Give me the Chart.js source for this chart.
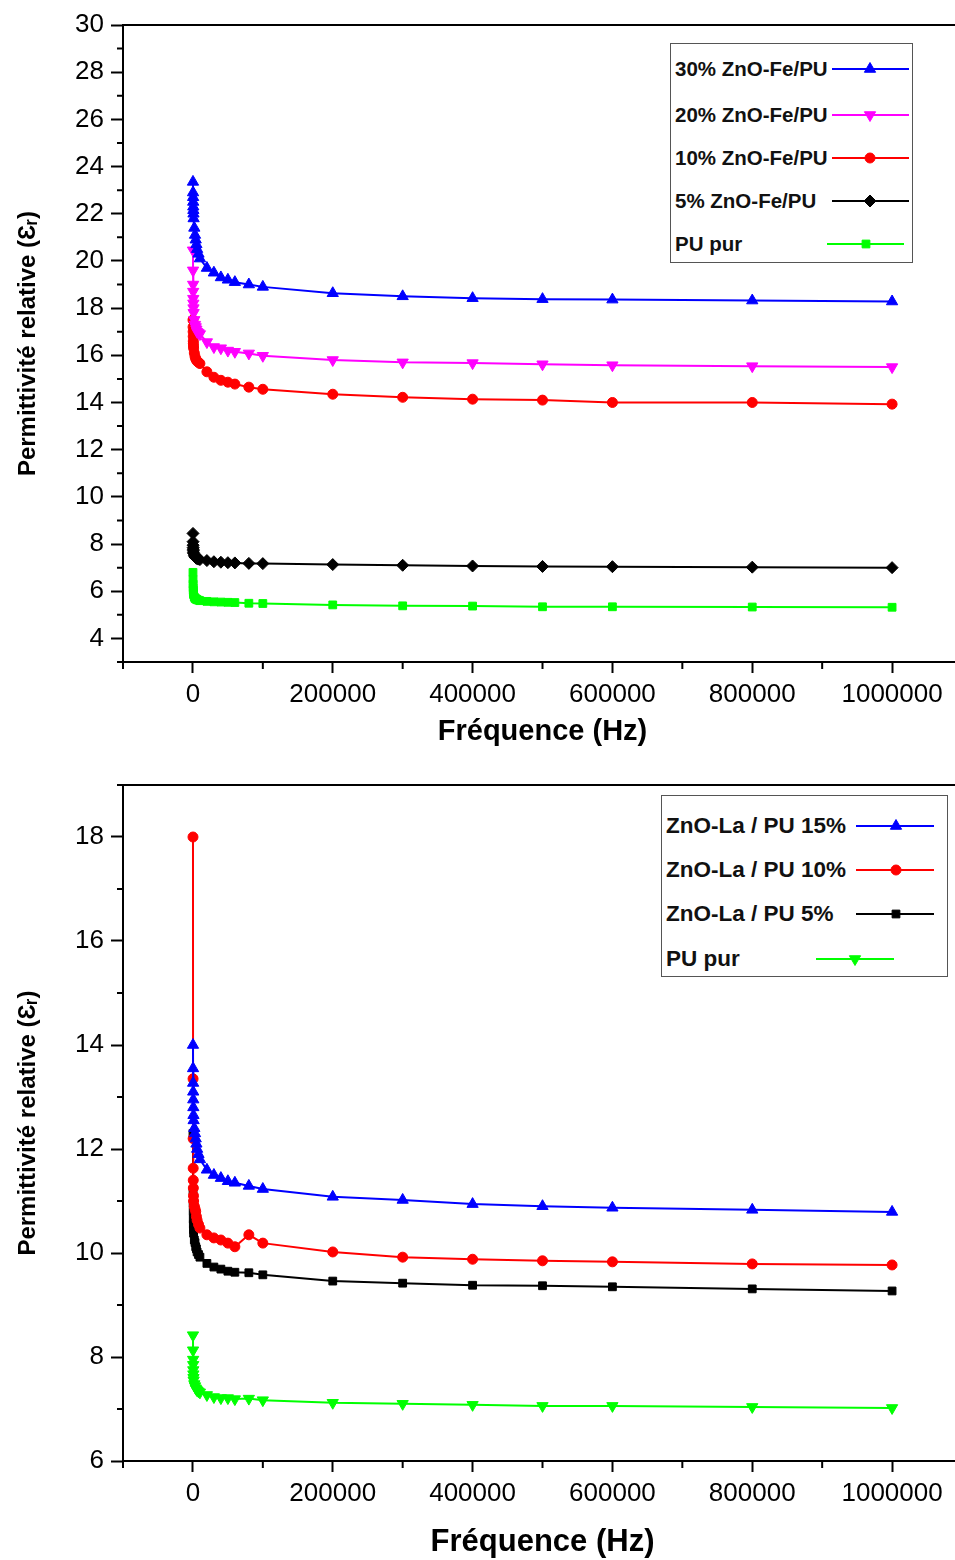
<!DOCTYPE html>
<html>
<head>
<meta charset="utf-8">
<script src="https://cdn.jsdelivr.net/npm/chart.js@4.4.1/dist/chart.umd.min.js"></script>
<style>
  html, body { margin: 0; padding: 0; background: #fff; overflow: hidden; width: 955px; height: 1560px; }
  #wrap { position: relative; width: 1000px; height: 1560px; }
  #wrap > canvas { position: absolute; left: 0; }
  .legend { position: absolute; border: 1.5px solid #555; background: #fff; box-sizing: border-box; z-index: 2;
            font-family: "Liberation Sans", Arial, Helvetica, sans-serif; font-weight: bold; color: #111; }
  .legend .lbl { position: absolute; white-space: nowrap; line-height: 1; transform: translateY(-50%); }
  .legend canvas { position: absolute; }
</style>
</head>
<body>
<div id="wrap">
  <canvas id="feChart" width="1000" height="760" style="top:0"></canvas>
  <canvas id="laChart" width="1000" height="800" style="top:760px"></canvas>
</div>
<script>
// Measurement frequencies (Hz)
const freqHz = [100, 200, 300, 400, 500, 600, 800, 1000, 2000, 3000, 4000, 5000, 6000, 8000,
  10000, 20000, 30000, 40000, 50000, 60000, 80000, 100000,
  200000, 300000, 400000, 500000, 600000, 800000, 1000000];

// ZnO-Fe / PU composites
const feLabels = ['30% ZnO-Fe/PU', '20% ZnO-Fe/PU', '10% ZnO-Fe/PU', '5% ZnO-Fe/PU', 'PU pur'];
const fe30 = [23.35, 22.9, 22.7, 22.5, 22.3, 22.15, 22.0, 21.8, 21.4, 21.1, 20.9, 20.7, 20.5, 20.3,
  20.1, 19.7, 19.5, 19.3, 19.2, 19.1, 19.0, 18.9, 18.63, 18.5, 18.42, 18.38, 18.36, 18.32, 18.28];
const fe20 = [20.45, 19.6, 19.0, 18.7, 18.4, 18.2, 18.0, 17.8, 17.5, 17.3, 17.2, 17.1, 17.0, 16.95,
  16.9, 16.56, 16.35, 16.3, 16.2, 16.15, 16.08, 15.98, 15.8, 15.7, 15.67, 15.62, 15.58, 15.54, 15.5];
const fe10 = [17.5, 17.2, 17.0, 16.8, 16.6, 16.5, 16.4, 16.3, 16.1, 15.95, 15.85, 15.8, 15.75, 15.7,
  15.65, 15.3, 15.07, 14.94, 14.86, 14.78, 14.65, 14.56, 14.35, 14.22, 14.14, 14.1, 14.0, 14.0, 13.93];
const fe5 = [8.45, 8.1, 7.95, 7.85, 7.78, 7.72, 7.65, 7.6, 7.5, 7.45, 7.42, 7.4, 7.38, 7.36,
  7.34, 7.3, 7.25, 7.23, 7.21, 7.2, 7.18, 7.17, 7.13, 7.1, 7.07, 7.05, 7.04, 7.02, 7.0];
const puFe = [6.8, 6.5, 6.3, 6.15, 6.05, 5.98, 5.9, 5.85, 5.75, 5.7, 5.68, 5.66, 5.64, 5.62,
  5.6, 5.57, 5.55, 5.54, 5.53, 5.52, 5.49, 5.48, 5.42, 5.38, 5.37, 5.34, 5.34, 5.33, 5.32];

// ZnO-La / PU composites
const laLabels = ['ZnO-La / PU 15%', 'ZnO-La / PU 10%', 'ZnO-La / PU 5%', 'PU pur'];
const la15 = [14.0, 13.55, 13.27, 13.1, 12.95, 12.8, 12.65, 12.55, 12.4, 12.3, 12.2, 12.1, 12.0, 11.9,
  11.8, 11.6, 11.5, 11.44, 11.38, 11.35, 11.29, 11.23, 11.08, 11.02, 10.94, 10.9, 10.87, 10.83, 10.79];
const la10 = [18.0, 13.35, 12.2, 11.63, 11.4, 11.25, 11.1, 11.0, 10.9, 10.85, 10.8, 10.7, 10.63, 10.55,
  10.48, 10.35, 10.29, 10.25, 10.19, 10.12, 10.35, 10.19, 10.02, 9.92, 9.88, 9.85, 9.83, 9.79, 9.77];
const la5 = [12.3, 11.2, 10.95, 10.8, 10.65, 10.55, 10.45, 10.38, 10.25, 10.2, 10.12, 10.08, 10.02, 9.97,
  9.92, 9.8, 9.73, 9.69, 9.65, 9.63, 9.62, 9.58, 9.46, 9.42, 9.38, 9.37, 9.35, 9.31, 9.27];
const puLa = [8.42, 8.13, 7.95, 7.85, 7.75, 7.67, 7.6, 7.55, 7.48, 7.44, 7.4, 7.38, 7.36, 7.34,
  7.32, 7.27, 7.23, 7.21, 7.21, 7.19, 7.2, 7.17, 7.12, 7.1, 7.08, 7.06, 7.06, 7.04, 7.02];

// Axis ticks
const xMajorTicks = [0, 200000, 400000, 600000, 800000, 1000000];
const xMinorTicks = [-100000, 100000, 300000, 500000, 700000, 900000, 1100000];
const feYMajor = [4, 6, 8, 10, 12, 14, 16, 18, 20, 22, 24, 26, 28, 30];
const feYMinor = [3, 5, 7, 9, 11, 13, 15, 17, 19, 21, 23, 25, 27, 29];
const laYMajor = [6, 8, 10, 12, 14, 16, 18];
const laYMinor = [7, 9, 11, 13, 15, 17, 19];

const FONT = '"Liberation Sans", Arial, Helvetica, sans-serif';
const BLUE = '#0000ff', MAGENTA = '#ff00ff', RED = '#ff0000', BLACK = '#000000', GREEN = '#00ff00';

// Top frame line and the short minor ticks on both axes
const axisDecor = {
  id: 'axisDecor',
  afterDraw(chart, args, opts) {
    const { ctx, chartArea: a } = chart;
    const xs = chart.scales.x, ys = chart.scales.y;
    ctx.save();
    ctx.strokeStyle = '#000';
    ctx.lineWidth = 2;
    ctx.beginPath();
    ctx.moveTo(a.left, a.top);
    ctx.lineTo(a.right, a.top);
    ctx.stroke();
    ctx.beginPath();
    (opts.yMinor || []).forEach(v => {
      const py = ys.getPixelForValue(v);
      ctx.moveTo(a.left - 6, py);
      ctx.lineTo(a.left, py);
    });
    (opts.xMinor || []).forEach(v => {
      const px = xs.getPixelForValue(v);
      ctx.moveTo(px, a.bottom);
      ctx.lineTo(px, a.bottom + 7);
    });
    ctx.stroke();
    ctx.restore();
  }
};

function series(label, values, color, style, rotation, radius) {
  return {
    label,
    data: freqHz.map((f, i) => ({ x: f, y: values[i] })),
    borderColor: color,
    backgroundColor: color,
    pointStyle: style,
    rotation: rotation || 0,
    pointRadius: radius,
    pointBorderWidth: 1,
    borderWidth: 2,
    tension: 0,
    fill: false
  };
}

function buildChart(canvasId, spec) {
  const canvas = document.getElementById(canvasId);
  const W = canvas.width, H = canvas.height;
  return new Chart(canvas, {
    type: 'line',
    data: { datasets: spec.datasets },
    plugins: [axisDecor],
    options: {
      responsive: false,
      animation: false,
      layout: { padding: { left: 0, top: spec.plot.top, right: W - spec.plot.right, bottom: 0 } },
      plugins: {
        legend: { display: false },
        tooltip: { enabled: false },
        axisDecor: { xMinor: xMinorTicks, yMinor: spec.yMinor }
      },
      scales: {
        x: {
          type: 'linear',
          min: -100000,
          max: 1100000,
          afterBuildTicks: s => { s.ticks = xMajorTicks.map(v => ({ value: v })); },
          afterFit: s => { s.height = H - spec.plot.bottom; },
          border: { display: true, color: '#000', width: 2 },
          grid: { display: true, drawOnChartArea: false, drawTicks: true, tickLength: 11, tickWidth: 2, tickColor: '#000' },
          ticks: { color: '#000', font: { family: FONT, size: spec.tickSize }, padding: spec.xTickPad,
                   maxRotation: 0, autoSkip: false, callback: v => String(v) },
          title: { display: true, text: 'Fréquence (Hz)', color: '#000',
                   font: { family: FONT, size: spec.xTitleSize, weight: 'bold', lineHeight: 1.1 },
                   padding: { top: 0, bottom: spec.xTitlePad } }
        },
        y: {
          type: 'linear',
          min: spec.yMin,
          max: spec.yMax,
          afterBuildTicks: s => { s.ticks = spec.yMajor.map(v => ({ value: v })); },
          afterFit: s => { s.width = spec.plot.left; },
          border: { display: true, color: '#000', width: 2 },
          grid: { display: true, drawOnChartArea: false, drawTicks: true, tickLength: 12, tickWidth: 2, tickColor: '#000' },
          ticks: { color: '#000', font: { family: FONT, size: spec.tickSize }, padding: 7, autoSkip: false,
                   callback: v => String(v) },
          title: { display: true, text: 'Permittivité relative (Ɛᵣ)', color: '#000',
                   font: { family: FONT, size: 24, weight: 'bold' },
                   padding: { top: 14, bottom: 0 } }
        }
      }
    }
  });
}

// Legend with the label on the left and the line sample on the right
function buildLegend(chart, spec) {
  const box = document.createElement('div');
  box.className = 'legend';
  Object.assign(box.style, { left: spec.left + 'px', top: spec.top + 'px', width: spec.width + 'px',
    height: spec.height + 'px', fontSize: spec.fontSize + 'px' });
  chart.data.datasets.forEach((ds, i) => {
    const cy = spec.rows[i];
    const lbl = document.createElement('div');
    lbl.className = 'lbl';
    lbl.textContent = ds.label;
    lbl.style.left = spec.textLeft + 'px';
    lbl.style.top = cy + 'px';
    box.appendChild(lbl);
    const smp = spec.samples[i];
    const c = document.createElement('canvas');
    const w = smp[1] - smp[0] + 4, h = 18;
    c.width = w; c.height = h;
    c.style.left = (smp[0] - 2) + 'px';
    c.style.top = (cy - h / 2) + 'px';
    const ctx = c.getContext('2d');
    ctx.strokeStyle = ds.borderColor;
    ctx.lineWidth = 2;
    ctx.beginPath();
    ctx.moveTo(2, h / 2);
    ctx.lineTo(w - 2, h / 2);
    ctx.stroke();
    ctx.fillStyle = ds.backgroundColor;
    ctx.strokeStyle = ds.borderColor;
    ctx.lineWidth = 1;
    Chart.helpers.drawPoint(ctx, { pointStyle: ds.pointStyle, rotation: ds.rotation, radius: ds.pointRadius,
      borderWidth: 1 }, smp[2] - smp[0] + 2, h / 2);
    box.appendChild(c);
  });
  document.getElementById('wrap').appendChild(box);
}

const feChart = buildChart('feChart', {
  plot: { left: 123, top: 25, right: 962, bottom: 662 },
  yMin: 3, yMax: 30, yMajor: feYMajor, yMinor: feYMinor,
  tickSize: 26, xTickPad: 6, xTitleSize: 29, xTitlePad: 12,
  datasets: [
    series(feLabels[0], fe30, BLUE, 'triangle', 0, 6.5),
    series(feLabels[1], fe20, MAGENTA, 'triangle', 180, 6.5),
    series(feLabels[2], fe10, RED, 'circle', 0, 5),
    series(feLabels[3], fe5, BLACK, 'rectRot', 0, 6),
    series(feLabels[4], puFe, GREEN, 'rect', 0, 5.5)
  ]
});

const laChart = buildChart('laChart', {
  plot: { left: 123, top: 25, right: 962, bottom: 701 },
  yMin: 6, yMax: 19, yMajor: laYMajor, yMinor: laYMinor,
  tickSize: 26, xTickPad: 6, xTitleSize: 31, xTitlePad: 0,
  datasets: [
    series(laLabels[0], la15, BLUE, 'triangle', 0, 6.5),
    series(laLabels[1], la10, RED, 'circle', 0, 5),
    series(laLabels[2], la5, BLACK, 'rect', 0, 5.5),
    series(laLabels[3], puLa, GREEN, 'triangle', 180, 6.5)
  ]
});

buildLegend(feChart, {
  left: 670, top: 43, width: 243, height: 220, fontSize: 20.5, textLeft: 4,
  rows: [25, 71, 114, 157, 200],
  samples: [[161, 238, 199], [161, 238, 199], [161, 238, 199], [161, 238, 199], [156, 233, 195]]
});

buildLegend(laChart, {
  left: 661, top: 795, width: 287, height: 182, fontSize: 22.5, textLeft: 4,
  rows: [30, 74, 118, 163],
  samples: [[194, 272, 234], [194, 272, 234], [194, 272, 234], [154, 232, 193]]
});
</script>
</body>
</html>
